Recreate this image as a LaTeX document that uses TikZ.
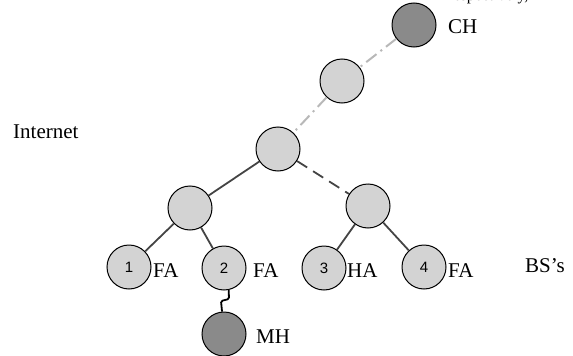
\documentclass[tikz,border=0pt]{standalone}
\usepackage{fontspec}
\setmainfont{Liberation Serif}
\newfontfamily\numfont{Liberation Sans}
\begin{document}
\begin{tikzpicture}[x=1pt,y=-1pt,
  nd/.style={circle,draw=black,line width=1pt,fill=lightnode,minimum size=44pt,inner sep=0pt,font=\numfont\fontsize{15}{17}\selectfont},
  dk/.style={circle,draw=black,line width=1pt,fill=darknode,minimum size=44pt,inner sep=0pt},
  lbl/.style={anchor=base west,inner sep=0pt,font=\fontsize{21}{24}\selectfont},
  wired/.style={draw=edgedark,line width=1.8pt},
  wdash/.style={draw=edgedark,line width=1.8pt,dash pattern=on 12pt off 7pt},
  inet/.style={draw=edgelight,line width=2pt,dash pattern=on 13pt off 5pt on 2pt off 5pt}]
\definecolor{lightnode}{HTML}{D3D3D3}
\definecolor{darknode}{HTML}{8A8A8A}
\definecolor{edgedark}{HTML}{444444}
\definecolor{edgelight}{HTML}{B8B8B8}
\useasboundingbox (0,0) rectangle (573,356);
\begin{scope}
\clip (0,0) rectangle (573,356);
\node[anchor=base west,inner sep=0pt,font=\fontsize{16}{18}\selectfont] (top) at (448,0) {respectively,};
\end{scope}
\node[dk] (CH) at (414,25) {};
\node[nd] (A) at (342,81) {};
\node[nd] (B) at (278,149) {};
\node[nd] (C) at (190,208) {};
\node[nd] (D) at (368,206) {};
\node[nd] (L1) at (129,267) {1};
\node[nd] (L2) at (224,268) {2};
\node[nd] (L3) at (324,268) {3};
\node[nd] (L4) at (424,267) {4};
\node[dk] (MH) at (224,334) {};
\draw[inet] (CH) -- (A);
\draw[inet] (A) -- (B);
\draw[wired] (B) -- (C);
\draw[wdash] (B) -- (D);
\draw[wired] (C) -- (L1);
\draw[wired] (C) -- (L2);
\draw[wired] (D) -- (L3);
\draw[wired] (D) -- (L4);
\coordinate (w1) at (229,299);
\coordinate (w2) at (221,301);
\draw[line width=1.8pt,black,rounded corners=1.5pt] (L2.-78) -- (w1) -- (w2) -- (MH.95);
\node[lbl] (ch) at (448,34) {CH};
\node[lbl] (mh) at (256,343) {MH};
\node[lbl] (fa1) at (153,277) {FA};
\node[lbl] (fa2) at (253,277) {FA};
\node[lbl] (ha3) at (347,277) {HA};
\node[lbl] (fa4) at (448,277) {FA};
\node[lbl] (inet) at (13,138) {Internet};
\node[lbl] (bs) at (525,272) {BS’s};
\end{tikzpicture}
\end{document}
